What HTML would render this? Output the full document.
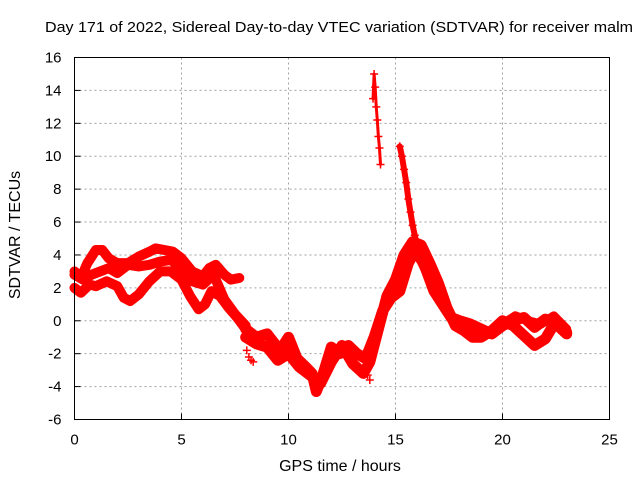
<!DOCTYPE html>
<html><head><meta charset="utf-8"><style>
html,body{margin:0;padding:0;background:#fff;}
svg{display:block;font-family:"Liberation Sans",sans-serif;}
</style></head><body>
<svg id="chart" width="640" height="480">
<text x="339" y="32" font-size="15" text-anchor="middle" textLength="588" lengthAdjust="spacingAndGlyphs" fill="#000">Day 171 of 2022, Sidereal Day-to-day VTEC variation (SDTVAR) for receiver malm</text>
<text x="340" y="471" font-size="16" text-anchor="middle">GPS time / hours</text>
<text transform="translate(20,235) rotate(-90)" font-size="16" text-anchor="middle">SDTVAR / TECUs</text>
<g id="grid"></g><g id="marks"></g>
<rect x="74.5" y="57.5" width="535" height="362" fill="none" stroke="#000" stroke-width="1"/>
</svg>
<script>
const xTicks=[0,5,10,15,20,25];
const yTicks=[-6,-4,-2,0,2,4,6,8,10,12,14,16];
const traceAx=[0,0.3,0.6,1,1.3,1.6,2,2.5,3,3.5,3.8,4.2,4.6,5,5.5,6,6.3,6.6,7,7.3,7.7];
const traceAy=[3,2.6,3.5,4.3,4.3,3.8,3.5,3.5,3.9,4.2,4.4,4.3,4.2,3.8,3,2.7,3.2,3.4,2.8,2.5,2.6];
const traceBx=[0,0.3,0.7,1,1.5,2,2.3,2.6,3,3.5,4,4.5,5,5.4,5.8,6.1,6.4,6.8,7.2,7.6,8];
const traceBy=[2,1.7,2.2,2.1,2.4,2.1,1.4,1.2,1.6,2.4,3,3,2.5,1.5,0.7,1,1.8,1.5,0.8,0.2,-0.5];
const traceCx=[0,0.4,0.8,1.2,1.6,2,2.5,3,3.5,4,4.5,5,5.5,6,6.5,7,7.5,8];
const traceCy=[2.8,2.5,2.8,3,3.2,2.9,3.4,3.3,3.4,3.6,3.7,3.2,2.4,2.2,2.8,1.3,0.4,-0.3];
const traceDx=[8,8.5,9,9.3,9.6,10,10.4,10.8,11.1,11.3,11.6,12,12.4,12.8,13.2,13.6,14,14.4,14.8,15.2,15.6,16,16.4,16.8,17.2,17.6,18,18.5,19,19.5,20,20.5,21,21.5,22,22.5,23];
const traceDy=[-0.5,-1,-0.8,-1.3,-1.8,-1,-2.3,-2.8,-3.2,-4.3,-3.3,-1.6,-2,-1.5,-2,-2.3,-1,0.6,1.4,1.8,3.5,4.5,3.2,1.8,1,0.2,0,-0.2,-0.5,-0.8,-0.3,0,0.2,-0.4,0.1,-0.2,-0.8];
const traceEx=[8,8.5,9,9.5,10,10.5,11,11.5,12,12.5,13,13.5,13.8,14.2,14.6,15,15.4,15.8,16.2,16.6,17,17.4,17.8,18.2,18.6,19,19.5,20,20.5,21,21.5,22,22.5,23];
const traceEy=[-1,-1.4,-1.6,-2.4,-2,-2.8,-3.3,-3.8,-2.5,-1.5,-2.6,-3.2,-2.5,-0.5,1.5,2.5,4,4.8,4.6,3.5,2.3,0.8,-0.3,-0.6,-1,-1,-0.6,0,-0.3,-0.9,-1.5,-1.1,0,-0.7];
const traceFx=[15.9,16.2,16.5,16.8,17.1,17.4,17.8,18.2,18.8,19.4,20,20.6,21.2,21.8,22.4,23];
const traceFy=[4.2,3.6,2.8,2,1.2,0.5,0,-0.4,-0.9,-0.6,-0.2,0.3,0,-0.2,0.3,-0.5];
const spike1x=[13.95,14,14.05,14.1,14.15,14.2,14.25,14.3];
const spike1y=[13.5,15,14.2,13,12.2,11.2,10.5,9.5];
const spike2x=[15.2,15.3,15.4,15.5,15.6,15.7,15.8,15.9,16];
const spike2y=[10.6,10,9.2,8.4,7.4,6.6,5.8,5.2,4.6];
const isoX=[8.05,8.15,8.25,8.35,13.7,13.8];
const isoY=[-1.8,-2.2,-2.4,-2.5,-3.3,-3.6];

const X0=74.5,X1=609.5,Y0=419.5,Y1=57.5;
const sx=v=>X0+(v-0)/25*(X1-X0);
const sy=v=>Y0-(v+6)/22*(Y0-Y1);
const NS='http://www.w3.org/2000/svg';
const grid=document.getElementById('grid'),marks=document.getElementById('marks');
function mk(tag,attrs,parent){const e=document.createElementNS(NS,tag);for(const k in attrs)e.setAttribute(k,attrs[k]);parent.appendChild(e);return e;}
xTicks.forEach(t=>{
  const x=sx(t);
  if(t>0&&t<25){const g=mk('line',{x1:x,x2:x,y1:Y0,y2:Y1,stroke:'#a0a0a0','stroke-dasharray':'2,3'},grid);
  
  }
  const tk=mk('line',{x1:x,x2:x,y1:Y0,y2:Y0-6,stroke:'#000'},grid);
  
  
  const l=mk('text',{x:x,y:Y0+25,'font-size':15,'text-anchor':'middle'},grid);l.textContent=t;
  
  
});
yTicks.forEach(t=>{
  const y=sy(t);
  if(t>-6&&t<16){const g=mk('line',{x1:X0,x2:X1,y1:y,y2:y,stroke:'#a0a0a0','stroke-dasharray':'2,3'},grid);
  
  }
  const tk=mk('line',{x1:X0,x2:X0+6,y1:y,y2:y,stroke:'#000'},grid);
  
  
  const l=mk('text',{x:X0-13,y:y+5,'font-size':15,'text-anchor':'end'},grid);l.textContent=t;
  
  
});
function series(xs,ys,name,w){
  if(w){const p=mk('polyline',{points:xs.map((v,i)=>sx(v)+','+sy(ys[i])).join(' '),fill:'none',stroke:'#ff0000','stroke-width':w,'stroke-linejoin':'round','stroke-linecap':'round'},marks);
  
  }
  xs.forEach((v,i)=>{const x=sx(v),y=sy(ys[i]);
    const m=mk('path',{d:`M${x-4},${y}H${x+4}M${x},${y-4}V${y+4}`,stroke:'#ff0000','stroke-width':1.5},marks);
    
    });
}
series(traceAx,traceAy,'trace-a',10);
series(traceBx,traceBy,'trace-b',10);
series(traceCx,traceCy,'trace-c',10);
series(traceDx,traceDy,'trace-d',11);
series(traceEx,traceEy,'trace-e',11);
series(traceFx,traceFy,'trace-f',9);
series(spike1x,spike1y,'spike-1',3);
series(spike2x,spike2y,'spike-2',6);
series(isoX,isoY,'isolated',0);
</script>
</body></html>
